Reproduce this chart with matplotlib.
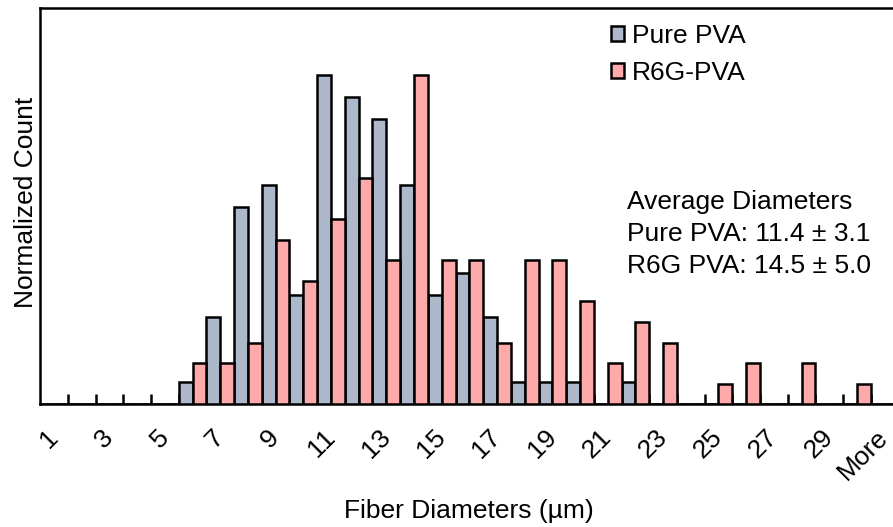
import numpy as np
import matplotlib
matplotlib.use("Agg")
import matplotlib.pyplot as plt
from matplotlib.patches import Patch

plt.rcParams['font.family'] = ['Liberation Sans', 'DejaVu Sans']

# ---- data ----
categories = [str(i) for i in range(1, 31)] + ['More']
pure_pva = [0, 0, 0, 0, 0, 1, 4, 9, 10, 5, 15, 14, 13, 10, 5, 6, 4, 1, 1, 1,
            0, 1, 0, 0, 0, 0, 0, 0, 0, 0, 0]
r6g_pva = [0, 0, 0, 0, 0, 2, 2, 3, 8, 6, 9, 11, 7, 16, 7, 7, 3, 7, 7, 5,
           2, 4, 3, 0, 1, 2, 0, 2, 0, 1, 0]
series_names = ['Pure PVA', 'R6G-PVA']
avg_lines = ['Average Diameters',
             'Pure PVA: 11.4 \u00b1 3.1',
             'R6G PVA: 14.5 \u00b1 5.0']

# ---- styling ----
FS = 19
LW = 1.8
c_pure = '#ADB9CA'
c_red = '#FFAAAA'
W, H = 893, 527

fig = plt.figure(figsize=(W / 100, H / 100), dpi=100)
ax = fig.add_axes([40.3 / W, 1 - 404.3 / H, 858.1 / W, 396 / H])

x = np.arange(len(categories))
pure_n = np.array(pure_pva) / max(pure_pva)
red_n = np.array(r6g_pva) / max(r6g_pva)
bw = 0.5
ax.bar(x - bw / 2, pure_n, width=bw, color=c_pure, edgecolor='black',
       linewidth=LW, zorder=3, label=series_names[0])
ax.bar(x + bw / 2, red_n, width=bw, color=c_red, edgecolor='black',
       linewidth=LW, zorder=3, label=series_names[1])

ax.set_xlim(-0.5, len(categories) - 0.5)
ax.set_ylim(0, 1.2036)

# labels every other category, tick marks at category boundaries
ax.set_xticks(x[::2])
ax.set_xticklabels(categories[::2], rotation=45, ha='right', va='center',
                   rotation_mode='anchor', fontsize=FS)
ax.set_xticks(np.arange(0.5, len(categories) - 1, 1), minor=True)
ax.tick_params(axis='x', which='major', length=0, pad=21)
ax.tick_params(axis='x', which='minor', direction='in', length=7,
               width=LW, color='black')
ax.set_yticks([])
for s in ['left', 'top', 'bottom', 'right']:
    ax.spines[s].set_linewidth(LW)

ax.set_xlabel('Fiber Diameters (\u00b5m)', fontsize=FS)
ax.xaxis.set_label_coords(0.5, -0.238)
ax.set_ylabel('Normalized Count', fontsize=FS)
ax.yaxis.set_label_coords(-0.003, 0.51)

handles = [Patch(facecolor=c_pure, edgecolor='black', linewidth=LW),
           Patch(facecolor=c_red, edgecolor='black', linewidth=LW)]
fig.legend(handles, series_names, loc='upper left',
           bbox_to_anchor=(611 / W, 1 - 24 / H), frameon=False, fontsize=FS,
           handlelength=0.5, handleheight=0.5, handletextpad=0.3,
           labelspacing=0.5, borderpad=0, borderaxespad=0)

for line, yb in zip(avg_lines, [209, 241, 273]):
    fig.text(627 / W, 1 - yb / H, line, fontsize=FS, ha='left', va='baseline')

fig.savefig('out.png', dpi=100)
